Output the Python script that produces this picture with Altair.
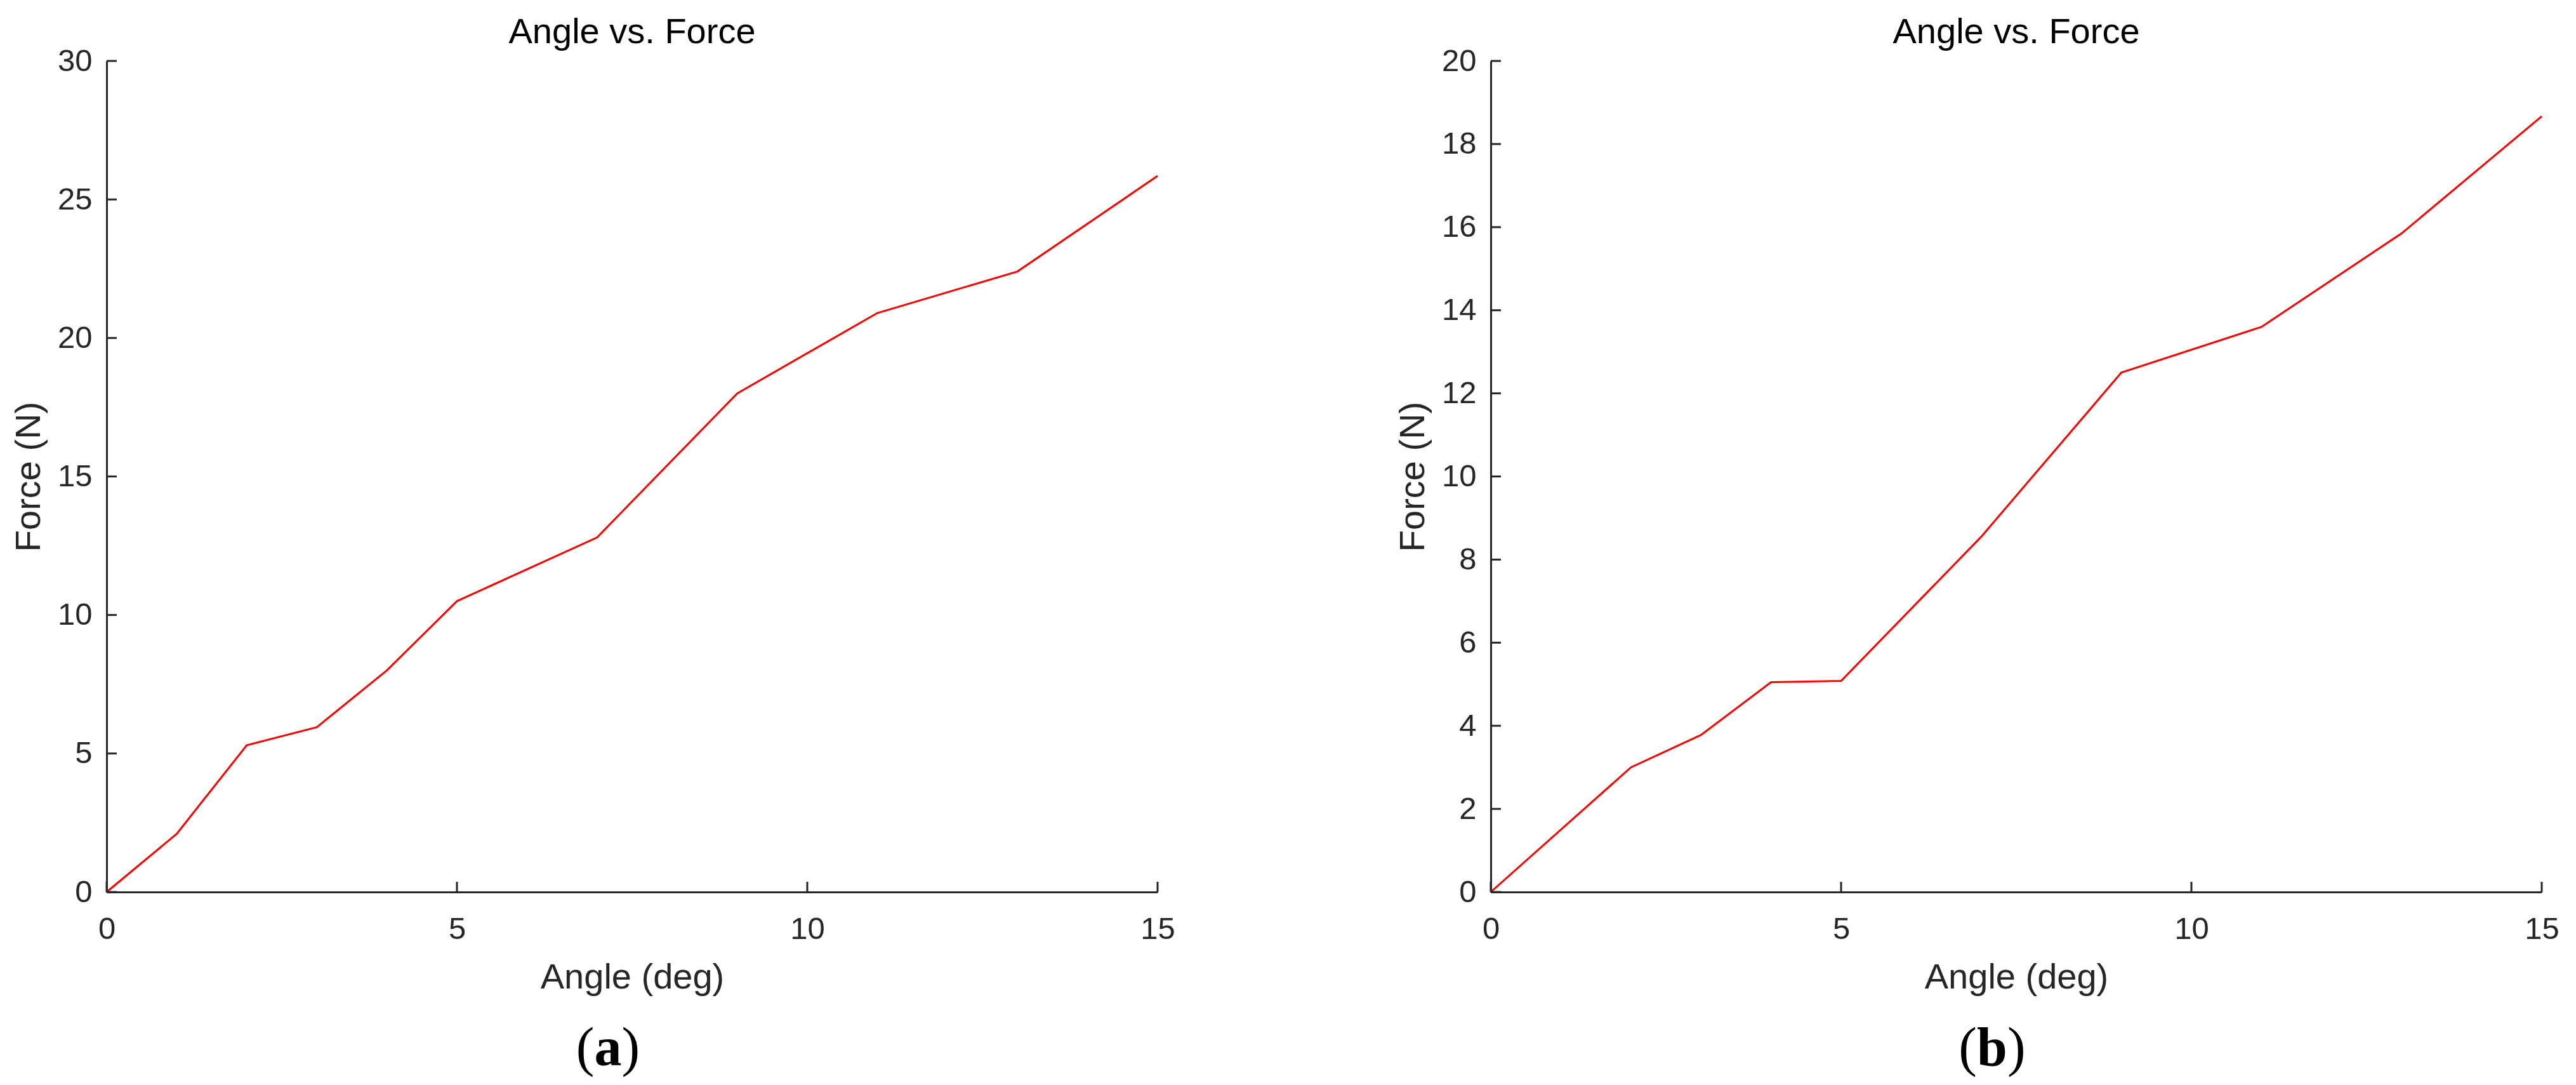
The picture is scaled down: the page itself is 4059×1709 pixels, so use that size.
import altair as alt
import pandas as pd

# ---- data ----
angle_a = [0, 1, 2, 3, 4, 5, 7, 9, 11, 13, 15]
force_a = [0, 2.1, 5.3, 5.95, 8.0, 10.5, 12.8, 18.0, 20.9, 22.4, 25.85]

angle_b = [0, 2, 3, 4, 5, 7, 9, 11, 13, 15]
force_b = [0, 3.0, 3.78, 5.05, 5.08, 8.55, 12.5, 13.6, 15.85, 18.67]

x_ticks = [0, 5, 10, 15]
y_ticks_a = [0, 5, 10, 15, 20, 25, 30]
y_ticks_b = [0, 2, 4, 6, 8, 10, 12, 14, 16, 18, 20]

titles = ["Angle vs. Force", "Angle vs. Force"]
letters = ["a", "b"]

W, H = 1656, 1309
TICK = 16
AX = "#262626"
FONT = "Liberation Sans"


def label(text, weight, align, x, y, size, font):
    return alt.Chart(pd.DataFrame({"t": [text]})).mark_text(
        font=font, fontSize=size, fontWeight=weight, color="#000000",
        align=align, baseline="alphabetic").encode(
        text="t:N", x=alt.value(x), y=alt.value(y))


def panel(angle, force, yticks, ymax, title, letter):
    df = pd.DataFrame({"angle": angle, "force": force})
    xs = alt.Scale(domain=[0, 15], nice=False, zero=False)
    ys = alt.Scale(domain=[0, ymax], nice=False, zero=False)
    xaxis = alt.Axis(values=x_ticks, title="Angle (deg)", labelPadding=34,
                     titlePadding=24, labelFlush=False)
    yaxis = alt.Axis(values=yticks, title="Force (N)", labelPadding=23,
                     titlePadding=16, labelFlush=False)

    line = alt.Chart(df).mark_line(color="#FF0000", strokeWidth=3, clip=False).encode(
        x=alt.X("angle:Q", scale=xs, axis=xaxis),
        y=alt.Y("force:Q", scale=ys, axis=yaxis),
    )

    xt = alt.Chart(pd.DataFrame({"angle": x_ticks})).mark_rule(color=AX, strokeWidth=3).encode(
        x=alt.X("angle:Q", scale=xs, axis=xaxis),
        y=alt.value(H),
        y2=alt.value(H - TICK),
    )
    yt = alt.Chart(pd.DataFrame({"force": yticks})).mark_rule(color=AX, strokeWidth=3).encode(
        y=alt.Y("force:Q", scale=ys, axis=yaxis),
        x=alt.value(0),
        x2=alt.value(TICK),
    )

    ttl = label(title, "normal", "center", W / 2, -28, 56, FONT)

    cx = 790
    by = 1582
    adv = 43 if letter == "a" else 48
    lab_mid = label(letter, "bold", "center", cx, by, 86, "Liberation Serif")
    lab_l = label("(", "normal", "right", cx - adv / 2, by, 86, "Liberation Serif")
    lab_r = label(")", "normal", "left", cx + adv / 2, by, 86, "Liberation Serif")

    return alt.layer(line, xt, yt, ttl, lab_mid, lab_l, lab_r).properties(
        width=W, height=H,
    )


left = panel(angle_a, force_a, y_ticks_a, 30, titles[0], letters[0])
right = panel(angle_b, force_b, y_ticks_b, 20, titles[1], letters[1])

chart = alt.hconcat(left, right, spacing=346).properties(
    padding={"left": 9, "top": 15, "right": 5, "bottom": 4},
    background="white",
).configure_view(stroke=None).configure_axis(
    domainColor=AX, domainWidth=3, ticks=False, grid=False,
    labelFont=FONT, labelFontSize=49, labelColor=AX,
    titleFont=FONT, titleFontSize=56, titleFontWeight="normal", titleColor=AX,
)

chart.save("out.html", embed_options={"renderer": "svg", "actions": False})
